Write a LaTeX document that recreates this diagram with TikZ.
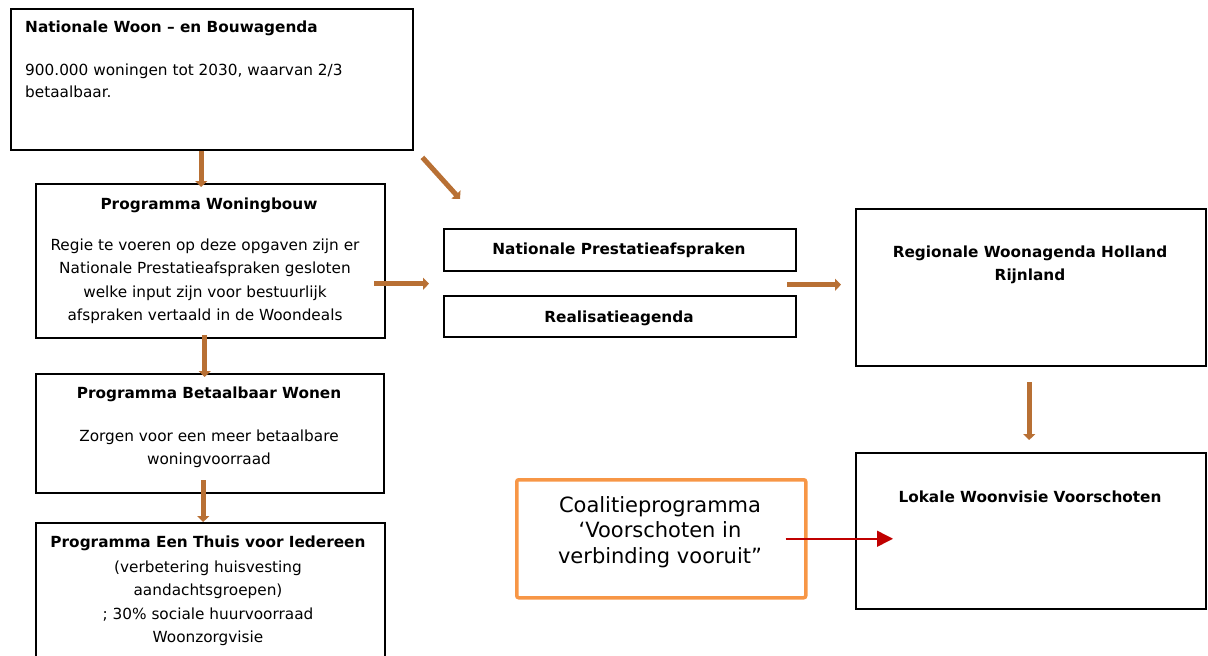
\documentclass[tikz,border=0pt]{standalone}
\usepackage{fontspec}
\setmainfont{DejaVu Sans}
\usetikzlibrary{arrows.meta,positioning,calc}
\definecolor{arrowbrown}{RGB}{184,112,52}
\definecolor{linkred}{RGB}{192,0,0}
\definecolor{coalorange}{RGB}{247,150,70}

\begin{document}
\begin{tikzpicture}[x=1pt,y=-1pt,
    box/.style={draw, line width=2.4pt, anchor=north west, inner sep=0pt},
    txt/.style={draw=none, inner sep=0pt, align=center, font=\fontsize{15.3}{23.5}\selectfont},
    head/.style={txt, font=\fontsize{15.3}{23.5}\selectfont\bfseries},
    brownarrow/.style={draw=arrowbrown, line width=5pt, -{Triangle[width=12pt,length=6pt]}},
    redarrow/.style={draw=linkred, line width=1.5pt, -{Triangle[width=16pt,length=16pt]}}]
  \useasboundingbox (0,0) rectangle (1208,656);
  \clip (0,0) rectangle (1208,656);

  % Boxes
  \node[box, minimum width=402pt, minimum height=141pt] (nwb) at (10,8) {};
  \node[box, minimum width=349pt, minimum height=154pt] (pwb) at (35,183) {};
  \node[box, minimum width=348pt, minimum height=119pt] (pbw) at (35,373) {};
  \node[box, minimum width=349pt, minimum height=160pt] (pet) at (35,522) {};
  \node[box, minimum width=352pt, minimum height=42pt] (npa) at (443,228) {};
  \node[box, minimum width=352pt, minimum height=41pt] (rag) at (443,295) {};
  \node[box, minimum width=350pt, minimum height=157pt] (rwa) at (855,208) {};
  \node[box, minimum width=350pt, minimum height=156pt] (lwv) at (855,452) {};
  \node[box, draw=coalorange, line width=3.5pt, rounded corners=2pt,
        minimum width=289pt, minimum height=118pt] (coal) at (515,478) {};

  % Labels (multi-line nodes sit on the baseline of their last line)
  \node[head, anchor=base west] (nwbtitle) at (25,32) {Nationale Woon – en Bouwagenda};
  \node[txt, anchor=base west, align=left, font=\fontsize{15.3}{22}\selectfont] (nwbtext) at (25,97) {900.000 woningen tot 2030, waarvan 2/3\\betaalbaar.};

  \node[head, anchor=base] (pwbtitle) at (209,209) {Programma Woningbouw};
  \node[txt, anchor=base] (pwbtext) at (205,320.5) {Regie te voeren op deze opgaven zijn er\\Nationale Prestatieafspraken gesloten\\welke input zijn voor bestuurlijk\\afspraken vertaald in de Woondeals};

  \node[head, anchor=base] (pbwtitle) at (209,398) {Programma Betaalbaar Wonen};
  \node[txt, anchor=base] (pbwtext) at (209,464.5) {Zorgen voor een meer betaalbare\\woningvoorraad};

  \node[head, anchor=base] (pettitle) at (208,547) {Programma Een Thuis voor Iedereen};
  \node[txt, anchor=base] (pettext) at (208,642.5) {(verbetering huisvesting\\aandachtsgroepen)\\; 30\% sociale huurvoorraad\\Woonzorgvisie};

  \node[head, anchor=base] (npatitle) at (619,254) {Nationale Prestatieafspraken};
  \node[head, anchor=base] (ragtitle) at (619,322) {Realisatieagenda};

  \node[head, anchor=base] (rwatitle) at (1030,280.5) {Regionale Woonagenda Holland\\Rijnland};
  \node[head, anchor=base] (lwvtitle) at (1030,502) {Lokale Woonvisie Voorschoten};

  \node[txt, anchor=base, font=\fontsize{21}{25.5}\selectfont] (coaltext) at (660,563) {Coalitieprogramma\\‘Voorschoten in\\verbinding vooruit”};

  % Arrows
  \draw[brownarrow] ([xshift=-11pt]nwb.south) -- ([xshift=-11pt,yshift=-4pt]nwb.south |- pwb.north);
  \draw[brownarrow] ([xshift=-6pt,yshift=4pt]pwb.south) -- ([xshift=-6pt,yshift=-4pt]pwb.south |- pbw.north);
  \draw[brownarrow] ([xshift=-7pt,yshift=14pt]pbw.south) -- ([xshift=-7pt]pbw.south |- pet.north);
  \draw[brownarrow] ([shift={(8pt,-6pt)}]nwb.south east) -- ([shift={(17pt,29pt)}]npa.north west);
  \draw[brownarrow] ([xshift=-69pt]$(npa.south west)!0.5!(rag.north west)$) -- ([xshift=-14pt]$(npa.south west)!0.5!(rag.north west)$);
  \draw[brownarrow] ([shift={(-68pt,3pt)}]rwa.west) -- ([shift={(-14pt,3pt)}]rwa.west);
  \draw[brownarrow] ([shift={(-2pt,-15pt)}]rwa.south) -- ([shift={(-2pt,12pt)}]lwv.north);
  \draw[redarrow] ([xshift=-22pt]coal.east) -- ([xshift=38pt]lwv.west |- coal.east);
\end{tikzpicture}
\end{document}
